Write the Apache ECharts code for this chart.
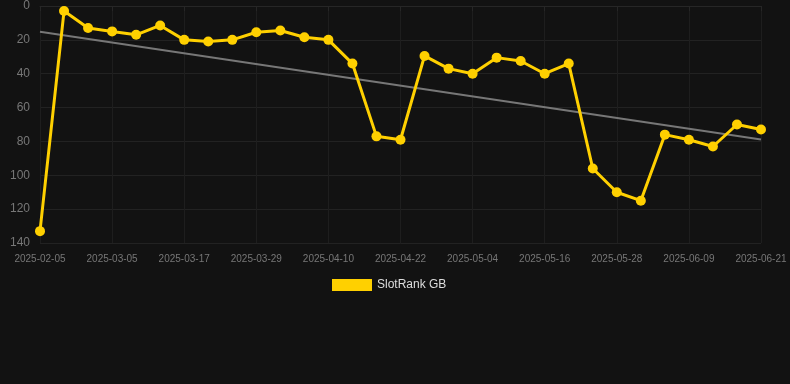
<!DOCTYPE html>
<html>
<head>
<meta charset="utf-8">
<script src="https://cdn.jsdelivr.net/npm/echarts@6/dist/echarts.min.js"></script>
<style>
html,body{margin:0;padding:0;background:#121212;}
#c{width:790px;height:384px;}
</style>
</head>
<body>
<div id="c"></div>
<script>
var categories = ['2025-02-05','2025-02-25','2025-03-01','2025-03-05','2025-03-09','2025-03-13','2025-03-17','2025-03-21','2025-03-25','2025-03-29','2025-04-02','2025-04-06','2025-04-10','2025-04-14','2025-04-18','2025-04-22','2025-04-26','2025-04-30','2025-05-04','2025-05-08','2025-05-12','2025-05-16','2025-05-20','2025-05-24','2025-05-28','2025-06-01','2025-06-05','2025-06-09','2025-06-13','2025-06-17','2025-06-21'];
var rankValues = [133,3,13,15,17,11.5,20,21,20,15.5,14.5,18.5,20,34,77,79,29.5,37,40,30.5,32.5,40,34,96,110,115,76,79,83,70,73];
var trendValues = [15.2,null,null,null,null,null,null,null,null,null,null,null,null,null,null,null,null,null,null,null,null,null,null,null,null,null,null,null,null,null,78.8];
var yTicks = [0,20,40,60,80,100,120,140];

var chart = echarts.init(document.getElementById('c'));
chart.setOption({
  backgroundColor: '#121212',
  animation: false,
  grid: {left: 40, right: 29, top: 6, bottom: 141, containLabel: false},
  legend: {
    data: [{name: 'SlotRank GB', icon: 'rect'}],
    bottom: 88, left: 327,
    itemWidth: 40, itemHeight: 12,
    textStyle: {color: '#dddddd', fontSize: 12}
  },
  xAxis: {
    type: 'category',
    data: categories,
    boundaryGap: false,
    axisLine: {show: true, lineStyle: {color: '#262626'}},
    axisTick: {show: true, interval: 2, lineStyle: {color: '#262626'}},
    axisLabel: {interval: 2, color: '#777777', fontSize: 10, margin: 11},
    splitLine: {show: true, interval: 2, lineStyle: {color: '#1e1e1e'}}
  },
  yAxis: {
    type: 'value',
    inverse: true,
    min: yTicks[0], max: yTicks[yTicks.length-1], interval: 20,
    axisLine: {show: false},
    axisTick: {show: false},
    axisLabel: {color: '#777777', fontSize: 12, margin: 10},
    splitLine: {show: true, lineStyle: {color: '#222222'}}
  },
  series: [
    {
      name: 'SlotRank GB',
      type: 'line',
      data: rankValues,
      symbol: 'circle',
      symbolSize: 10,
      lineStyle: {color: '#FFD000', width: 3},
      itemStyle: {color: '#FFD000'},
      z: 3
    },
    {
      name: 'trend',
      type: 'line',
      data: trendValues,
      connectNulls: true,
      symbol: 'none',
      lineStyle: {color: '#777777', width: 2},
      itemStyle: {color: '#777777'},
      z: 2
    }
  ]
});
</script>
</body>
</html>
